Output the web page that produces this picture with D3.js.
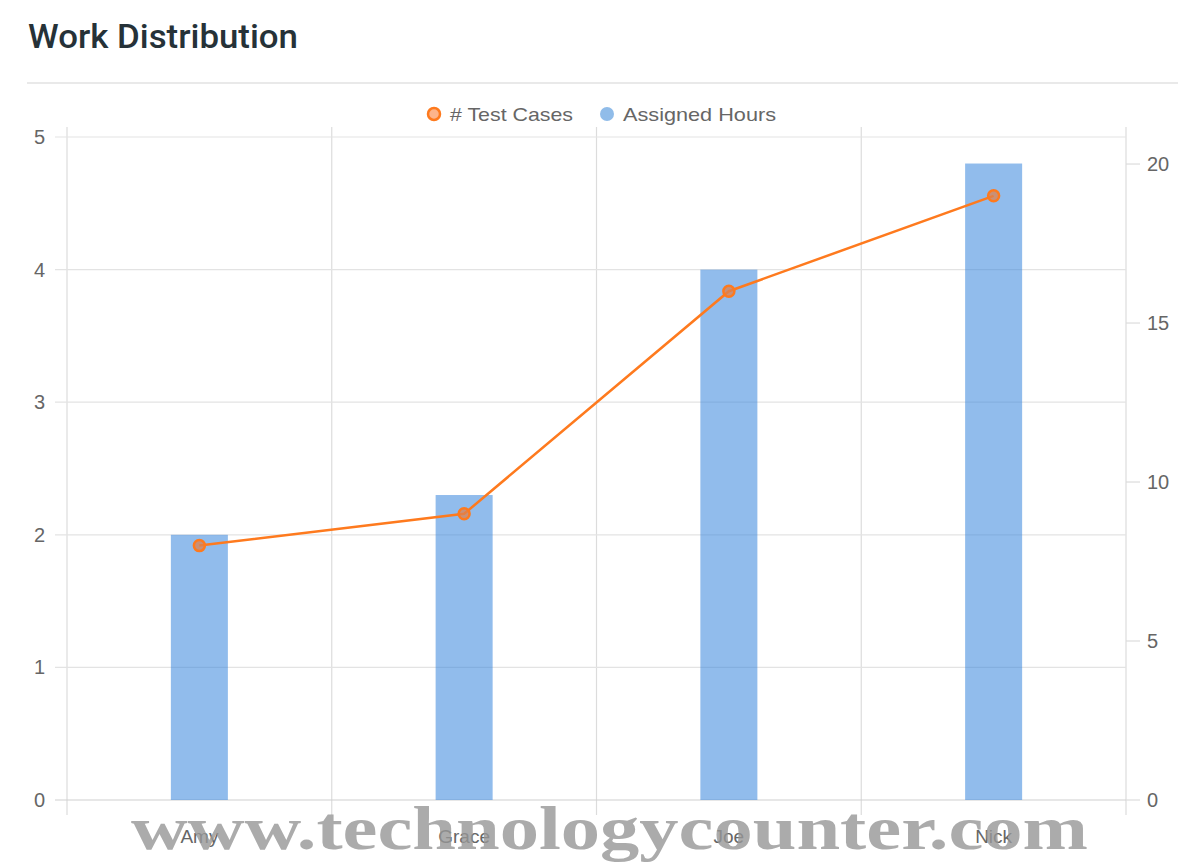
<!DOCTYPE html>
<html><head><meta charset="utf-8">
<script src="https://cdn.jsdelivr.net/npm/d3@7"></script>
<style>body{margin:0;background:#fff;}svg{display:block;}</style>
</head><body>
<svg id="c" width="1200" height="865"></svg>
<script>
const categories = ["Amy", "Grace", "Joe", "Nick"];
const assignedHours = [2.0, 2.3, 4.0, 4.8];
const testCases = [8, 9, 16, 19];
const leftTicks = [0, 1, 2, 3, 4, 5];
const rightTicks = [0, 5, 10, 15, 20];
const legendLabels = ["# Test Cases", "Assigned Hours"];

const svg = d3.select("#c");
const L = 67, R = 1126, T = 137, B = 800;
const font = "'Helvetica Neue', Helvetica, 'Liberation Sans', Arial, sans-serif";

svg.append("text").attr("x", 28).attr("y", 48).text("Work Distribution")
  .attr("font-family", "Roboto, sans-serif").attr("font-weight", 500)
  .attr("font-size", 34).attr("fill", "#263238")
  .attr("textLength", 270).attr("lengthAdjust", "spacingAndGlyphs");
svg.append("line").attr("x1", 27).attr("x2", 1178).attr("y1", 83).attr("y2", 83)
  .attr("stroke", "#e2e2e2").attr("stroke-width", 1.5);

const x = d3.scaleBand().domain(categories).range([L, R]);
const yL = d3.scaleLinear().domain([0, 5]).range([B, T]);
const yR = d3.scaleLinear().domain([0, 20.85]).range([B, T]);

const grid = svg.append("g");
const bounds = categories.map(c => x(c)).concat([R]);
grid.selectAll("line.v").data(bounds).join("line")
  .attr("x1", d => d).attr("x2", d => d).attr("y1", 127).attr("y2", 815)
  .attr("stroke", "#dcdcdc").attr("stroke-width", 1.2);
grid.selectAll("line.h").data(leftTicks).join("line")
  .attr("x1", 55).attr("x2", R).attr("y1", d => yL(d)).attr("y2", d => yL(d))
  .attr("stroke", d => d === 0 ? "#d0d0d0" : "#e3e3e3").attr("stroke-width", 1.2);
grid.selectAll("line.r").data(rightTicks).join("line")
  .attr("x1", R).attr("x2", 1140).attr("y1", d => yR(d)).attr("y2", d => yR(d))
  .attr("stroke", "#dcdcdc").attr("stroke-width", 1.2);

svg.append("g").selectAll("text").data(leftTicks).join("text")
  .attr("x", 45).attr("y", d => yL(d)).attr("dy", "0.35em").attr("text-anchor", "end")
  .attr("font-family", font).attr("font-size", 20).attr("fill", "#666").text(d => d);
svg.append("g").selectAll("text").data(rightTicks).join("text")
  .attr("x", 1147).attr("y", d => yR(d)).attr("dy", "0.35em").attr("text-anchor", "start")
  .attr("font-family", font).attr("font-size", 20).attr("fill", "#666").text(d => d);

const bw = 57;
svg.append("g").selectAll("rect").data(assignedHours).join("rect")
  .attr("x", (d, i) => x(categories[i]) + x.bandwidth() / 2 - bw / 2)
  .attr("width", bw)
  .attr("y", d => yL(d)).attr("height", d => B - yL(d))
  .attr("fill", "rgba(54,133,220,0.55)");

svg.append("g").selectAll("text").data(categories).join("text")
  .attr("x", d => x(d) + x.bandwidth() / 2).attr("y", 836).attr("dy", "0.35em")
  .attr("text-anchor", "middle").attr("font-family", font).attr("font-size", 19)
  .attr("fill", "#666").text(d => d);

const cx = (d, i) => x(categories[i]) + x.bandwidth() / 2;
const line = d3.line().x(cx).y(d => yR(d));
svg.append("path").datum(testCases).attr("d", line).attr("fill", "none")
  .attr("stroke", "#fe7a1e").attr("stroke-width", 2.5);
svg.append("g").selectAll("circle").data(testCases).join("circle")
  .attr("cx", cx).attr("cy", d => yR(d)).attr("r", 5.5)
  .attr("fill", "rgba(220,130,80,0.75)").attr("stroke", "#fe7a1e").attr("stroke-width", 2.5);

const lg = svg.append("g");
lg.append("circle").attr("cx", 434).attr("cy", 114).attr("r", 6)
  .attr("fill", "#fdb48a").attr("stroke", "#fe7a1e").attr("stroke-width", 2.5);
lg.append("text").attr("x", 450).attr("y", 114).attr("dy", "0.35em")
  .attr("font-family", font).attr("font-size", 19).attr("fill", "#666")
  .attr("textLength", 123).attr("lengthAdjust", "spacingAndGlyphs").text(legendLabels[0]);
lg.append("circle").attr("cx", 607).attr("cy", 114).attr("r", 7).attr("fill", "#90bce9");
lg.append("text").attr("x", 623).attr("y", 114).attr("dy", "0.35em")
  .attr("font-family", font).attr("font-size", 19).attr("fill", "#666")
  .attr("textLength", 153).attr("lengthAdjust", "spacingAndGlyphs").text(legendLabels[1]);

svg.append("text").attr("x", 131).attr("y", 849).text("www.technologycounter.com")
  .attr("font-family", "'Liberation Serif', 'DejaVu Serif', serif").attr("font-weight", "bold")
  .attr("font-size", 62).attr("fill", "rgba(150,150,150,0.8)")
  .attr("textLength", 957).attr("lengthAdjust", "spacingAndGlyphs");
</script>
</body></html>
